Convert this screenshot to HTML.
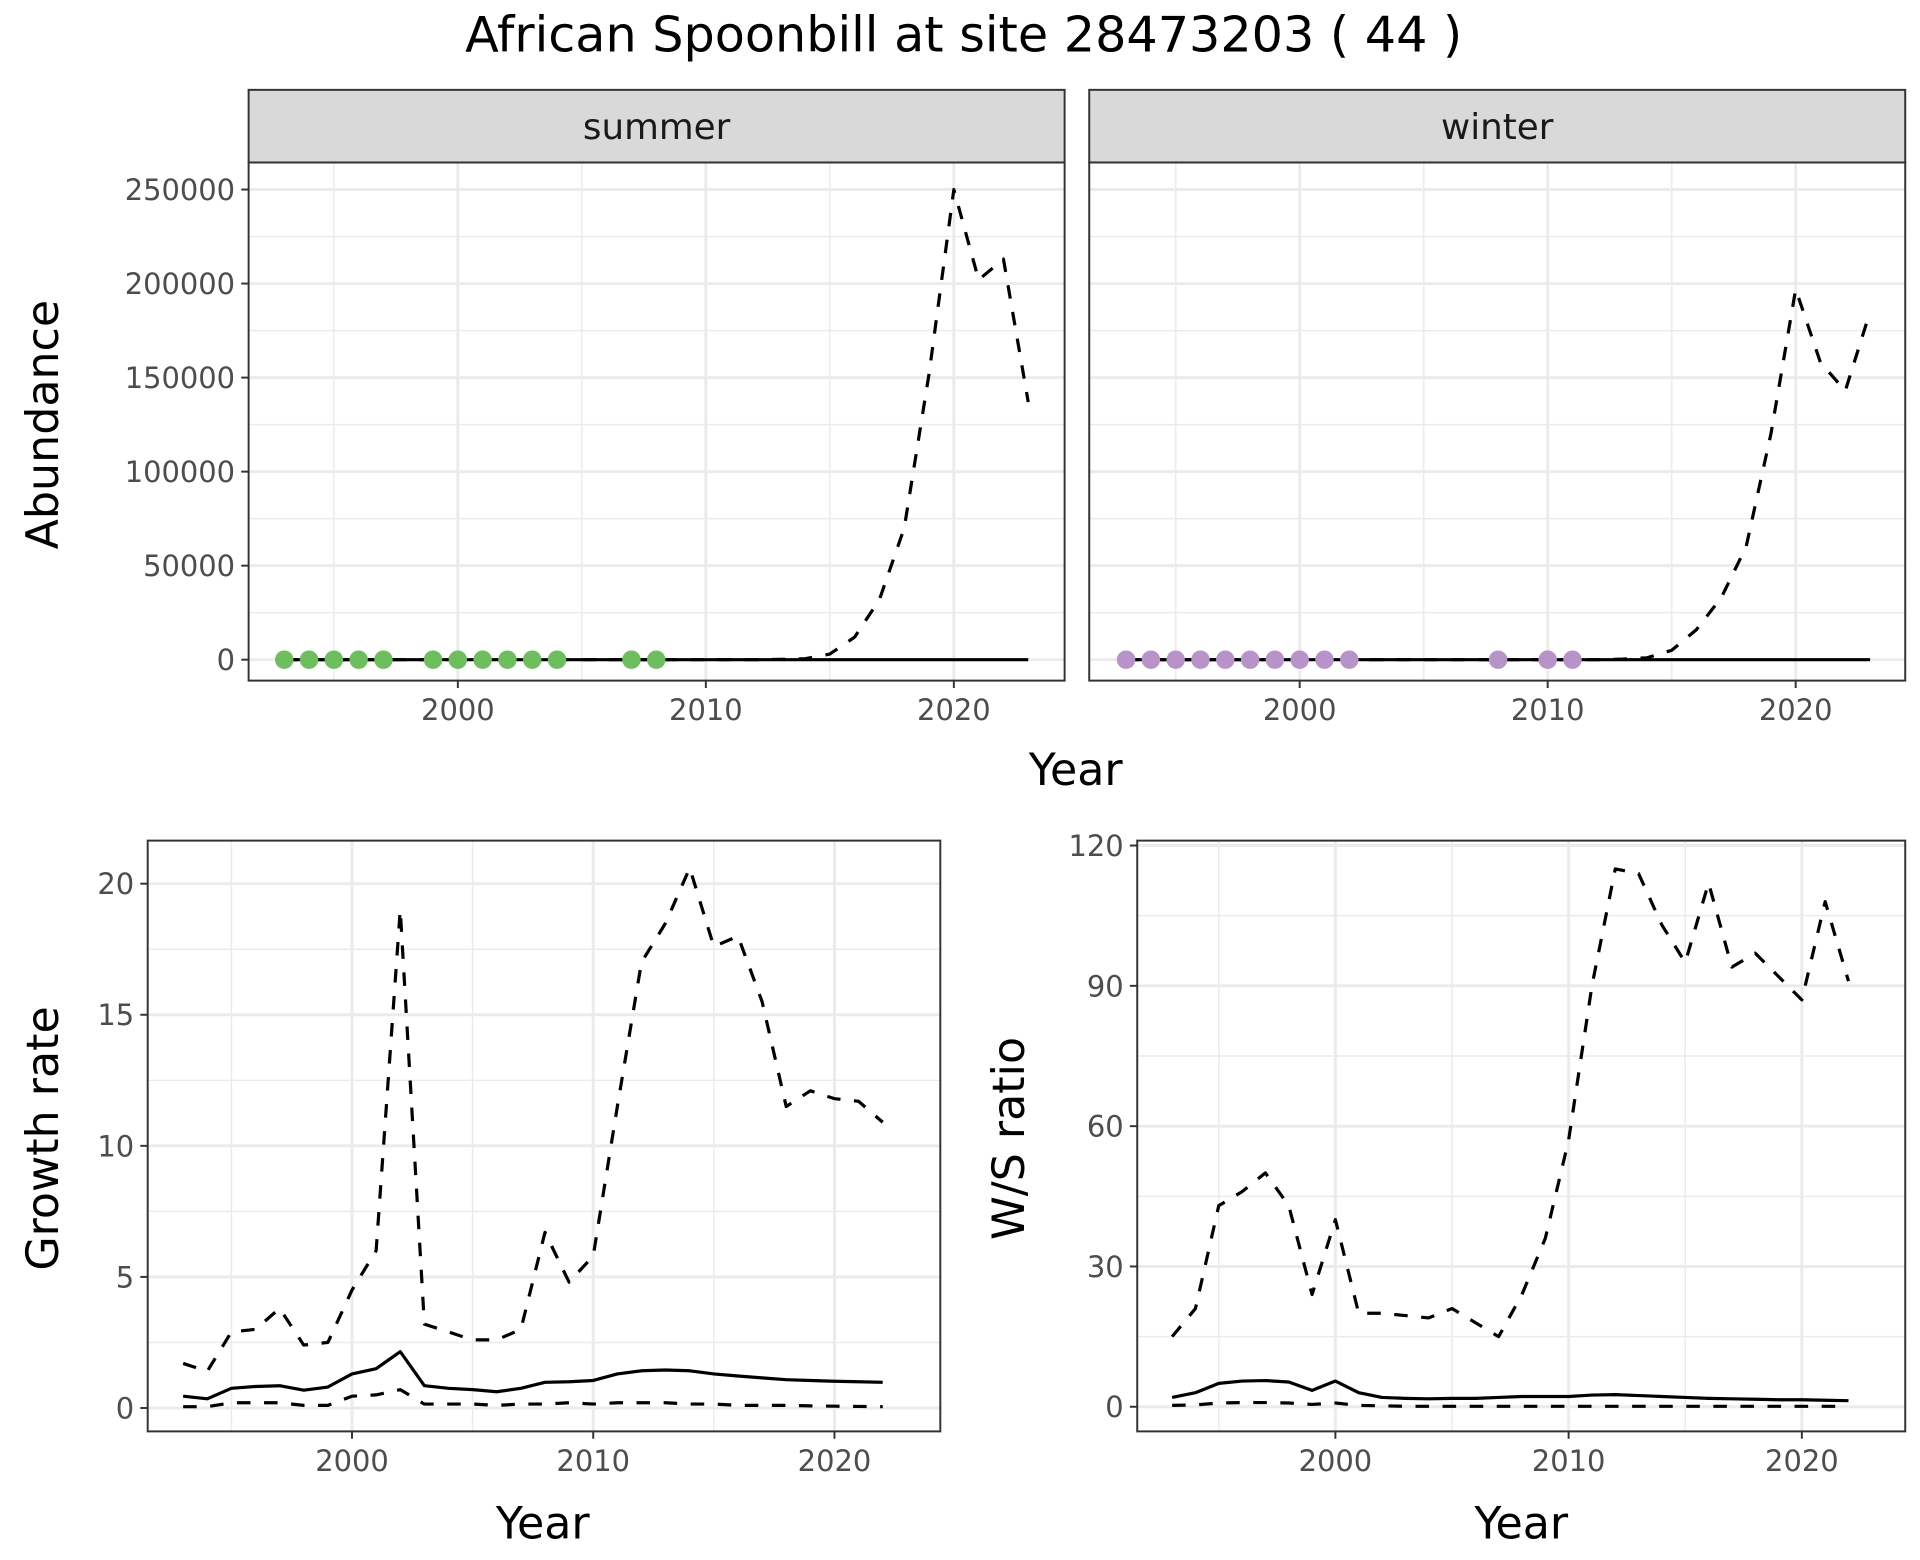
<!DOCTYPE html>
<html><head><meta charset="utf-8"><style>
html,body{margin:0;padding:0;background:#fff;}
svg{display:block;font-family:"DejaVu Sans","Liberation Sans",sans-serif;}
.tick{fill:#4d4d4d;font-size:23.5px;}
.ttl{fill:#000;font-size:36px;}
</style></head><body>
<svg id="chart" width="1920" height="1560" viewBox="0 0 1560 1267.5" xmlns="http://www.w3.org/2000/svg">
<text x="783" y="42" text-anchor="middle" font-size="40" fill="#000">African Spoonbill at site 28473203 ( 44 )</text>
<g id="g"></g>
</svg>
<script>
const summerPointYears=[1993,1994,1995,1996,1997,1999,2000,2001,2002,2003,2004,2007,2008];
const winterPointYears=[1993,1994,1995,1996,1997,1998,1999,2000,2001,2002,2008,2010,2011];
const abYears=[1993,1994,1995,1996,1997,1998,1999,2000,2001,2002,2003,2004,2005,2006,2007,2008,2009,2010,2011,2012,2013,2014,2015,2016,2017,2018,2019,2020,2021,2022,2023];
const summerDashed=[0,0,0,0,0,0,0,0,0,0,0,0,0,0,0,0,0,0,0,0,200,500,3000,12000,32000,70000,152000,250000,202000,213000,137000];
const winterDashed=[0,0,0,0,0,0,0,0,0,0,0,0,0,0,0,0,0,0,0,0,300,1000,5000,16000,33000,60000,120000,197000,158000,143000,185000];
const abSolid=abYears.map(()=>0);
const abTicks=[0,50000,100000,150000,200000,250000];
const xTicks=[2000,2010,2020];
const grYears=[1993,1994,1995,1996,1997,1998,1999,2000,2001,2002,2003,2004,2005,2006,2007,2008,2009,2010,2011,2012,2013,2014,2015,2016,2017,2018,2019,2020,2021,2022];
const grUpper=[1.7,1.4,2.9,3.0,3.8,2.4,2.5,4.5,6.0,19.0,3.2,2.9,2.6,2.6,3.0,6.7,4.8,5.8,11.5,17.0,18.5,20.6,17.6,18.0,15.5,11.5,12.1,11.8,11.7,10.9];
const grMid=[0.45,0.35,0.75,0.82,0.85,0.68,0.8,1.3,1.5,2.15,0.85,0.75,0.7,0.62,0.75,0.98,1.0,1.05,1.3,1.42,1.45,1.42,1.3,1.22,1.15,1.08,1.05,1.02,1.0,0.98];
const grLower=[0.05,0.05,0.2,0.2,0.2,0.1,0.1,0.45,0.5,0.7,0.15,0.15,0.15,0.1,0.15,0.15,0.2,0.15,0.2,0.2,0.2,0.15,0.15,0.1,0.1,0.1,0.08,0.07,0.06,0.05];
const grTicks=[0,5,10,15,20];
const wsUpper=[15,21,43,46,50,43,24,40,20,20,19.5,19,21,18,15,24,36,57,90,115,114,103,95,112,94,97,92,87,108,91];
const wsMid=[2,3,5,5.5,5.6,5.3,3.5,5.5,3,2,1.8,1.7,1.8,1.8,2,2.2,2.2,2.2,2.5,2.6,2.4,2.2,2,1.8,1.7,1.6,1.5,1.5,1.4,1.3];
const wsLower=[0.3,0.4,0.8,0.9,0.9,0.8,0.5,0.8,0.3,0.2,0.1,0.1,0.1,0.1,0.1,0.1,0.1,0.1,0.1,0.1,0.1,0.1,0.1,0.1,0.1,0.1,0.1,0.1,0.1,0.1];
const wsTicks=[0,30,60,90,120];

const NS='http://www.w3.org/2000/svg';
const G=document.getElementById('g');
function mk(tag,attrs,parent){const e=document.createElementNS(NS,tag);for(const k in attrs)e.setAttribute(k,attrs[k]);(parent||G).appendChild(e);return e;}
function lin(d0,d1,r0,r1){return v=>r0+(v-d0)*(r1-r0)/(d1-d0);}

function panel(o){
  const g=mk('g',{});
  
  
  const {x0,x1,y0,y1,sx,sy}=o;
  mk('rect',{x:x0,y:y0,width:x1-x0,height:y1-y0,fill:'#fff'},g);
  o.yMinor.forEach(v=>{mk('line',{x1:x0,x2:x1,y1:sy(v),y2:sy(v),stroke:'#ebebeb','stroke-width':1.2},g);});
  o.xMinor.forEach(v=>{mk('line',{x1:sx(v),x2:sx(v),y1:y0,y2:y1,stroke:'#ebebeb','stroke-width':1.2},g);});
  o.yTicks.forEach(v=>{mk('line',{x1:x0,x2:x1,y1:sy(v),y2:sy(v),stroke:'#ebebeb','stroke-width':2.4},g);});
  xTicks.forEach(v=>{mk('line',{x1:sx(v),x2:sx(v),y1:y0,y2:y1,stroke:'#ebebeb','stroke-width':2.4},g);});
  o.series.forEach(s=>{
    const p=mk('polyline',{points:s.xs.map((x,i)=>sx(x)+','+sy(s.ys[i])).join(' '),fill:'none',stroke:'#000','stroke-width':2.6,'stroke-dasharray':s.dash?'11 11':'none','stroke-linejoin':'round'},g);
    
    
  });
  (o.points||[]).forEach(x=>{
    const c=mk('circle',{cx:sx(x),cy:sy(0),r:7.5,fill:o.pcol},g);
    
    
  });
  mk('rect',{x:x0,y:y0,width:x1-x0,height:y1-y0,fill:'none',stroke:'#333','stroke-width':1.6},g);
  if(o.yLabels){o.yTicks.forEach(v=>{
    mk('line',{x1:x0-6,x2:x0,y1:sy(v),y2:sy(v),stroke:'#333','stroke-width':1.6},g);
    const t=mk('text',{x:x0-11,y:sy(v)+8.5,'text-anchor':'end',class:'tick'},g);t.textContent=v;
    
    
  });}
  xTicks.forEach(v=>{
    mk('line',{x1:sx(v),x2:sx(v),y1:y1,y2:y1+6,stroke:'#333','stroke-width':1.6},g);
    const t=mk('text',{x:sx(v),y:y1+32,'text-anchor':'middle',class:'tick'},g);t.textContent=v;
    
    
  });
  if(o.strip){
    const r=mk('rect',{x:x0,y:73,width:x1-x0,height:y0-73,fill:'#d9d9d9',stroke:'#333','stroke-width':1.6},g);
    
    
    const t=mk('text',{x:(x0+x1)/2,y:113,'text-anchor':'middle','font-size':29,fill:'#1a1a1a'},g);t.textContent=o.strip;
    
    
  }
}
function mids(arr){const r=[];for(let i=0;i<arr.length-1;i++)r.push((arr[i]+arr[i+1])/2);return r;}

const abMinor=mids(abTicks);
const sxS=lin(2000,2020,372,775), sxW=lin(2000,2020,1056,1459), syA=lin(0,250000,536,154);
panel({name:'summer-panel',x0:202,x1:865,y0:132,y1:553,sx:sxS,sy:syA,yTicks:abTicks,yMinor:abMinor,xMinor:[1995,2005,2015],yLabels:true,strip:'summer',pcol:'#6dbe5c',points:summerPointYears,
  series:[{xs:abYears,ys:abSolid,dash:false,name:'summer-solid-line'},{xs:abYears,ys:summerDashed,dash:true,name:'summer-dashed-line'}]});
panel({name:'winter-panel',x0:885,x1:1548,y0:132,y1:553,sx:sxW,sy:syA,yTicks:abTicks,yMinor:abMinor,xMinor:[1995,2005,2015],yLabels:false,strip:'winter',pcol:'#b893c9',points:winterPointYears,
  series:[{xs:abYears,ys:abSolid,dash:false,name:'winter-solid-line'},{xs:abYears,ys:winterDashed,dash:true,name:'winter-dashed-line'}]});
panel({name:'growth-rate-panel',x0:120,x1:764,y0:683,y1:1163,sx:lin(2000,2020,286,678),sy:lin(0,20,1144,718),yTicks:grTicks,yMinor:[2.5,7.5,12.5,17.5],xMinor:[1995,2005,2015],yLabels:true,
  series:[{xs:grYears,ys:grUpper,dash:true,name:'growth-upper-dashed'},{xs:grYears,ys:grMid,dash:false,name:'growth-solid'},{xs:grYears,ys:grLower,dash:true,name:'growth-lower-dashed'}]});
panel({name:'ws-ratio-panel',x0:924,x1:1548,y0:683,y1:1163,sx:lin(2000,2020,1085,1464),sy:lin(0,120,1143,687),yTicks:wsTicks,yMinor:[15,45,75,105],xMinor:[1995,2005,2015],yLabels:true,
  series:[{xs:grYears,ys:wsUpper,dash:true,name:'ws-upper-dashed'},{xs:grYears,ys:wsMid,dash:false,name:'ws-solid'},{xs:grYears,ys:wsLower,dash:true,name:'ws-lower-dashed'}]});

function title(txt,x,y,rot,name){
  const t=mk('text',{x:x,y:y,'text-anchor':'middle',class:'ttl',transform:rot?`rotate(-90 ${x} ${y})`:''});
  t.textContent=txt;
  
  
}
title('Abundance',47,345,true,'y-axis-title-abundance');
title('Year',874,638,false,'x-axis-title-top');
title('Growth rate',47,925,true,'y-axis-title-growth');
title('Year',441,1250,false,'x-axis-title-growth');
title('W/S ratio',832,925,true,'y-axis-title-ws');
title('Year',1236,1250,false,'x-axis-title-ws');
</script>
</body></html>
